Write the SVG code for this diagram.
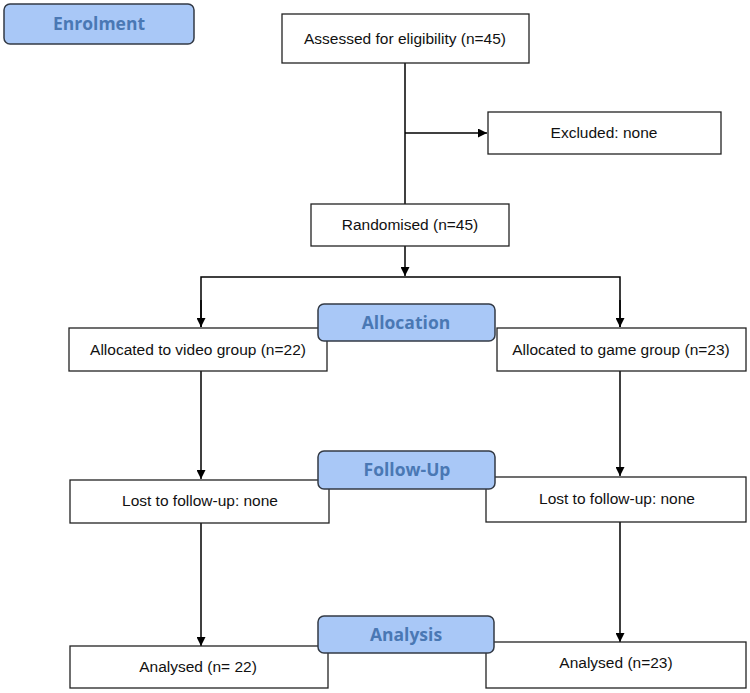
<svg xmlns="http://www.w3.org/2000/svg" width="750" height="693" viewBox="0 0 750 693">
<style>
.box{fill:#fff;stroke:#222;stroke-width:1.3}
.hdr{fill:#a9c8f7;stroke:#333a45;stroke-width:1.5}
.t{font-family:"Liberation Sans",Arial,sans-serif;font-size:15.5px;fill:#111;text-anchor:middle}
.h{font-family:"Open Sans","Noto Sans",sans-serif;font-size:17.5px;font-weight:bold;fill:#4a78b4;text-anchor:middle}
.ln{fill:none;stroke:#000;stroke-width:1.5}
</style>
<defs>
<marker id="ah" viewBox="0 0 10 10" refX="10" refY="5" markerWidth="9" markerHeight="9" markerUnits="userSpaceOnUse" orient="auto">
<path d="M0,0 L10,5 L0,10 Z" fill="#000"/>
</marker>
</defs>
<g id="connectors">
<line class="ln" x1="405" y1="63" x2="405" y2="204"/>
<line class="ln" x1="405" y1="133" x2="487" y2="133" marker-end="url(#ah)"/>
<line class="ln" x1="405" y1="246" x2="405" y2="276" marker-end="url(#ah)"/>
<polyline class="ln" points="201,327 201,277 620,277 620,327"/>
<line class="ln" x1="201" y1="300" x2="201" y2="327" marker-end="url(#ah)"/>
<line class="ln" x1="620" y1="300" x2="620" y2="327" marker-end="url(#ah)"/>
<line class="ln" x1="201" y1="371" x2="201" y2="479" marker-end="url(#ah)"/>
<line class="ln" x1="620" y1="371" x2="620" y2="476" marker-end="url(#ah)"/>
<line class="ln" x1="201" y1="523" x2="201" y2="646" marker-end="url(#ah)"/>
<line class="ln" x1="620" y1="522" x2="620" y2="642" marker-end="url(#ah)"/>
</g>
<g id="enrolment"><rect class="hdr" x="4" y="4" width="190" height="40" rx="6"/><text class="h" x="99" y="30">Enrolment</text></g>
<g id="assessed"><rect class="box" x="282" y="14" width="247" height="49"/><text class="t" x="405" y="44">Assessed for eligibility (n=45)</text></g>
<g id="excluded"><rect class="box" x="488" y="112" width="233" height="42"/><text class="t" x="604" y="138">Excluded: none</text></g>
<g id="randomised"><rect class="box" x="311" y="204" width="198" height="42"/><text class="t" x="410" y="230">Randomised (n=45)</text></g>
<g id="alloc-video"><rect class="box" x="69" y="328" width="258" height="43"/><text class="t" x="198" y="355">Allocated to video group (n=22)</text></g>
<g id="alloc-game"><rect class="box" x="497" y="328" width="249" height="43"/><text class="t" x="621" y="355">Allocated to game group (n=23)</text></g>
<g id="allocation"><rect class="hdr" x="318" y="304" width="177" height="37" rx="6"/><text class="h" x="406" y="329">Allocation</text></g>
<g id="lost-video"><rect class="box" x="70" y="480" width="259" height="43"/><text class="t" x="200" y="506">Lost to follow-up: none</text></g>
<g id="lost-game"><rect class="box" x="486" y="477" width="260" height="45"/><text class="t" x="617" y="504">Lost to follow-up: none</text></g>
<g id="followup"><rect class="hdr" x="318" y="451" width="177" height="38" rx="6"/><text class="h" x="407" y="476">Follow-Up</text></g>
<g id="analysed-video"><rect class="box" x="70" y="646" width="258" height="42"/><text class="t" x="198" y="672">Analysed (n= 22)</text></g>
<g id="analysed-game"><rect class="box" x="486" y="642" width="260" height="46"/><text class="t" x="616" y="668">Analysed (n=23)</text></g>
<g id="analysis"><rect class="hdr" x="318" y="616" width="176" height="37" rx="6"/><text class="h" x="406" y="641">Analysis</text></g>
</svg>
